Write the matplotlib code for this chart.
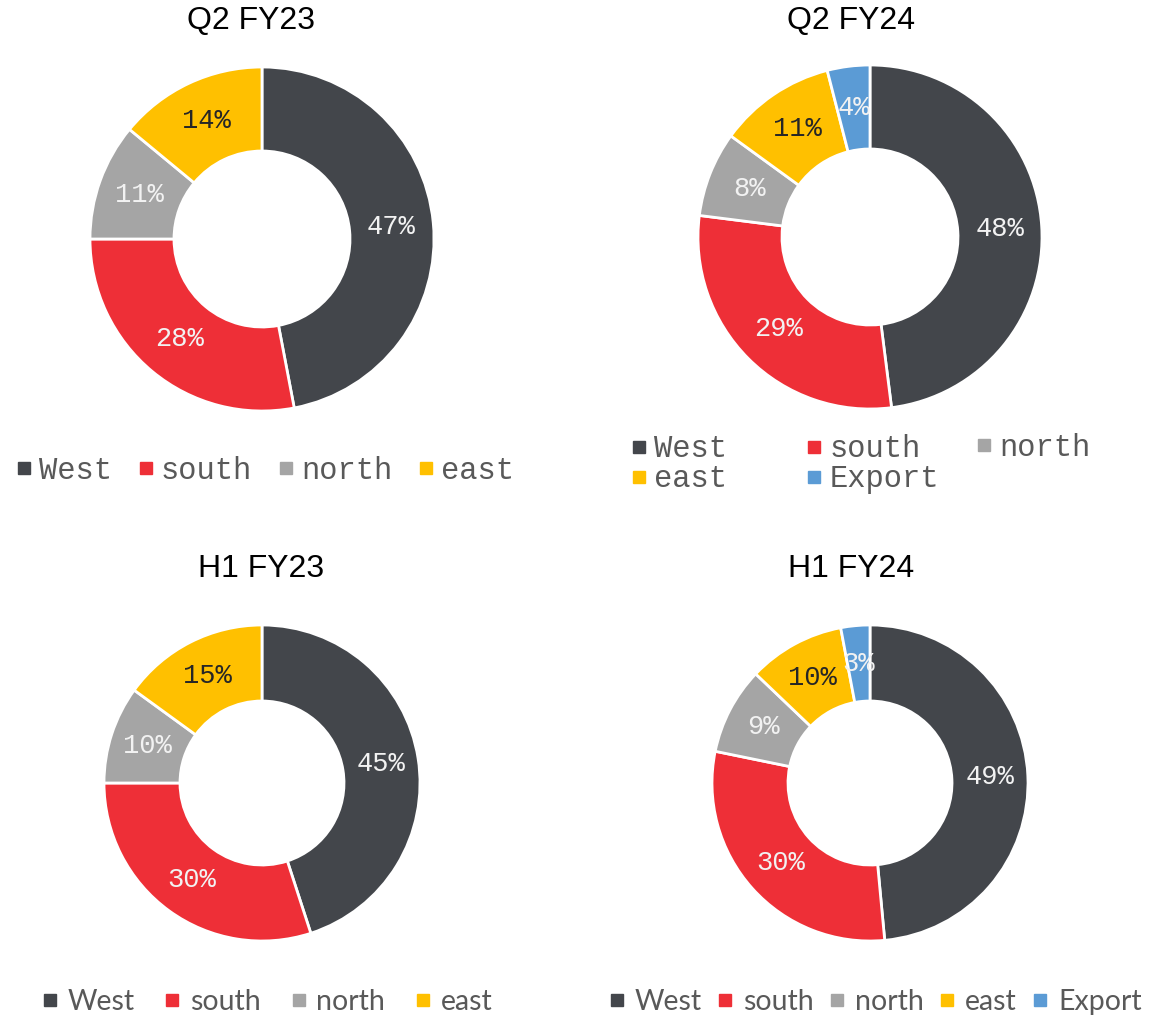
"""
Regional sales split - donut charts (Q2 / H1, FY23 vs FY24)
"""
import numpy as np
import matplotlib
matplotlib.use("Agg")
import matplotlib.pyplot as plt
from matplotlib.lines import Line2D

# --- data ---
regions_4 = ["West", "south", "north", "east"]
regions_5 = ["West", "south", "north", "east", "Export"]

q2_fy23 = [47, 28, 11, 14]
q2_fy24 = [48, 29, 8, 11, 4]
h1_fy23 = [45, 30, 10, 15]
h1_fy24 = [49, 30, 9, 10, 3]

colors = ["#43464B", "#EE2F37", "#A5A5A5", "#FFC000", "#5B9BD5"]
label_colors = ["#F2F2F2", "#F2F2F2", "#F2F2F2", "#262626", "#F2F2F2"]

W, H = 1174, 1018
fig = plt.figure(figsize=(W / 100, H / 100), dpi=100)


def donut(cx, cy, r_out, r_in, values, title, title_x, title_y):
    # axes placed in pixel coords, radius 1 == r_out px
    ax = fig.add_axes([(cx - r_out) / W, (H - cy - r_out) / H, 2 * r_out / W, 2 * r_out / H])
    width = 1 - r_in / r_out
    wedges, _ = ax.pie(values, colors=colors[:len(values)], startangle=90, counterclock=False,
                       radius=1, wedgeprops=dict(width=width, edgecolor="white", linewidth=2))
    ax.set_xlim(-1, 1)
    ax.set_ylim(-1, 1)
    ax.set_aspect("equal")
    ax.axis("off")

    mid_r = 1 - width / 2
    for i, (w, v) in enumerate(zip(wedges, values)):
        ang = np.deg2rad((w.theta1 + w.theta2) / 2)
        t = ax.text(mid_r * np.cos(ang), mid_r * np.sin(ang), f"{v}%",
                    ha="center", va="center", fontsize=19.5, family="Liberation Mono",
                    color=label_colors[i])
        if i == 4:
            # the small export label gets cut by its neighbours
            t.set_clip_path(w)

    fig.text(title_x / W, 1 - title_y / H, title, ha="center", va="center",
             fontsize=23, family="Liberation Sans", color="black")
    return ax


donut(262, 239, 172, 88, q2_fy23, "Q2 FY23", 251, 21)
donut(870, 237, 172, 88, q2_fy24, "Q2 FY24", 851, 21)
donut(262, 783, 158, 82, h1_fy23, "H1 FY23", 261, 569)
donut(870, 783, 158, 82, h1_fy24, "H1 FY24", 851, 569)


def handles(names, idx, ms):
    return [Line2D([], [], linestyle="none", marker="s", markersize=ms,
                   markerfacecolor=colors[i], markeredgecolor=colors[i], label=n)
            for n, i in zip(names, idx)]


mono = dict(family="Liberation Mono", size=22)

# top-left legend (monospace, one row)
fig.legend(handles=handles(regions_4, range(4), 8.5), loc="center", ncol=4,
           bbox_to_anchor=(266 / W, 1 - 471 / H), frameon=False,
           prop=mono, labelcolor="#595959",
           handlelength=0.4, handletextpad=0.3, columnspacing=0.9)

# top-right legend: Excel lays it out row by row on a fixed grid,
# so build it one column at a time
cols = [[0, 3], [1, 4], [2]]
col_x = [633, 808, 978]
for c, x in zip(cols, col_x):
    y = 464.5 if len(c) == 2 else 448
    fig.legend(handles=handles([regions_5[i] for i in c], c, 8.5), loc="center left",
               bbox_to_anchor=(x / W, 1 - y / H), frameon=False,
               prop=mono, labelcolor="#595959", borderpad=0, borderaxespad=0,
               handlelength=0.4, handletextpad=0.3, labelspacing=0)

# bottom legends (sans)
fig.legend(handles=handles(regions_4, range(4), 9), loc="center", ncol=4,
           bbox_to_anchor=(268 / W, 1 - 1002 / H), frameon=False,
           prop=dict(family="Lato", size=20.5), labelcolor="#595959",
           handlelength=0.45, handletextpad=0.4, columnspacing=1.1)
fig.legend(handles=handles(regions_5, range(5), 9), loc="center", ncol=5,
           bbox_to_anchor=(876 / W, 1 - 1002 / H), frameon=False,
           prop=dict(family="Lato", size=20.5), labelcolor="#595959",
           handlelength=0.45, handletextpad=0.4, columnspacing=0.6)

fig.savefig("out.png", dpi=100, facecolor="white")
